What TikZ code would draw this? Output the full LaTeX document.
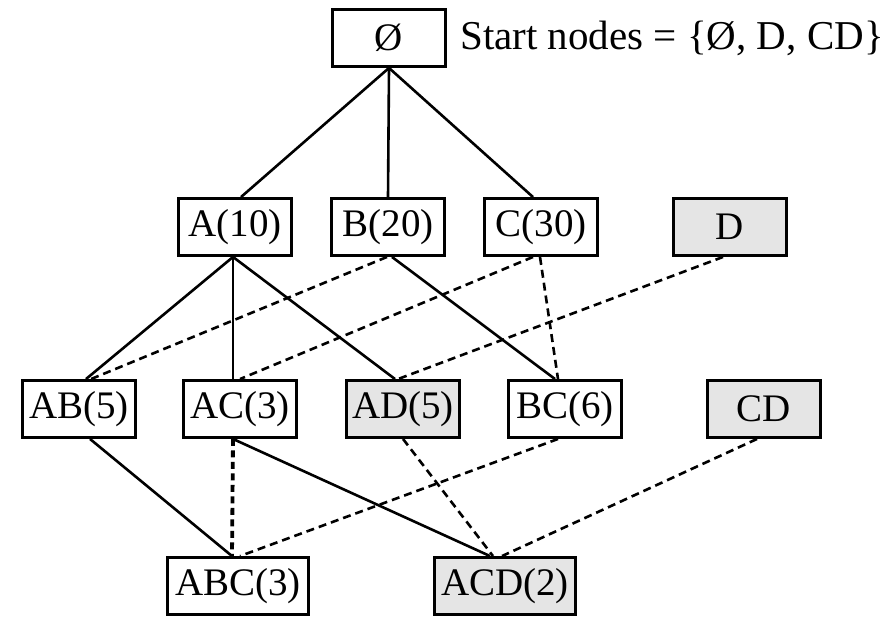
\documentclass[tikz,border=0pt]{standalone}
\usepackage{fontspec}
\setmainfont{Liberation Serif}
\begin{document}
\begin{tikzpicture}[x=1pt,y=-1pt,
  every node/.style={font=\fontsize{39}{46}\selectfont},
  setbox/.style={draw=black,line width=2.9pt,minimum width=113pt,minimum height=57pt,inner sep=0pt,fill=white},
  widebox/.style={setbox,minimum width=141pt},
  startbox/.style={fill=gray!20},
  caption/.style={anchor=west,inner sep=0pt,font=\fontsize{41}{48}\selectfont},
  link/.style={line width=2.6pt},
  dlink/.style={line width=2.6pt,dash pattern=on 8pt off 5pt},
  vlink/.style={line width=3.8pt,dash pattern=on 7pt off 4.5pt}]
\useasboundingbox (0,0) rectangle (893,616);

% lattice levels
\node[setbox] (E) at (389,38) {Ø};
\node[caption] (lbl) at (460,38) {Start nodes = \{Ø, D, CD\}};

\node[setbox] (A) at (235,227) {A(10)};
\node[setbox] (B) at (388,227) {B(20)};
\node[setbox] (C) at (541,227) {C(30)};
\node[setbox,startbox] (D) at (730,227) {D};

\node[setbox] (AB) at (79,409) {AB(5)};
\node[setbox] (AC) at (240,409) {AC(3)};
\node[setbox,startbox] (AD) at (403,409) {AD(5)};
\node[setbox] (BC) at (565,409) {BC(6)};
\node[setbox,startbox] (CD) at (764,409) {CD};

\node[widebox] (ABC) at (238,586) {ABC(3)};
\node[widebox,startbox] (ACD) at (505,586) {ACD(2)};

% edges between levels
\draw[link] (E.south) -- ([xshift=6pt]A.north);
\draw[link] (E.south) -- (B.north);
\draw[link] (E.south) -- ([xshift=-8pt]C.north);

\draw[link] ([xshift=-2pt]A.south) -- ([xshift=7pt]AB.north);
\draw[link] ([xshift=-2pt]A.south) -- ([xshift=-7pt]AC.north);
\draw[link] ([xshift=-2pt]A.south) -- ([xshift=-8pt]AD.north);
\draw[dlink] ([xshift=-1pt]B.south) -- ([xshift=12pt]AB.north);
\draw[link] ([xshift=4pt]B.south) -- ([xshift=-10pt]BC.north);
\draw[dlink] ([xshift=-8pt]C.south) -- (AC.north);
\draw[dlink] ([xshift=-1pt]C.south) -- ([xshift=-7pt]BC.north);
\draw[dlink] ([xshift=-7pt]D.south) -- ([xshift=-5pt]AD.north);

\draw[link] ([xshift=11pt]AB.south) -- ([xshift=-6pt]ABC.north);
\draw[vlink] ([xshift=-7pt]AC.south) -- ([xshift=-6pt]ABC.north);
\draw[link] ([xshift=-7pt]AC.south) -- ([xshift=-15pt]ACD.north);
\draw[dlink] (AD.south) -- ([xshift=-12pt]ACD.north);
\draw[dlink] ([xshift=-7pt]BC.south) -- ([xshift=2pt]ABC.north);
\draw[dlink] ([xshift=-7pt]CD.south) -- ([xshift=-3pt]ACD.north);
\end{tikzpicture}
\end{document}
